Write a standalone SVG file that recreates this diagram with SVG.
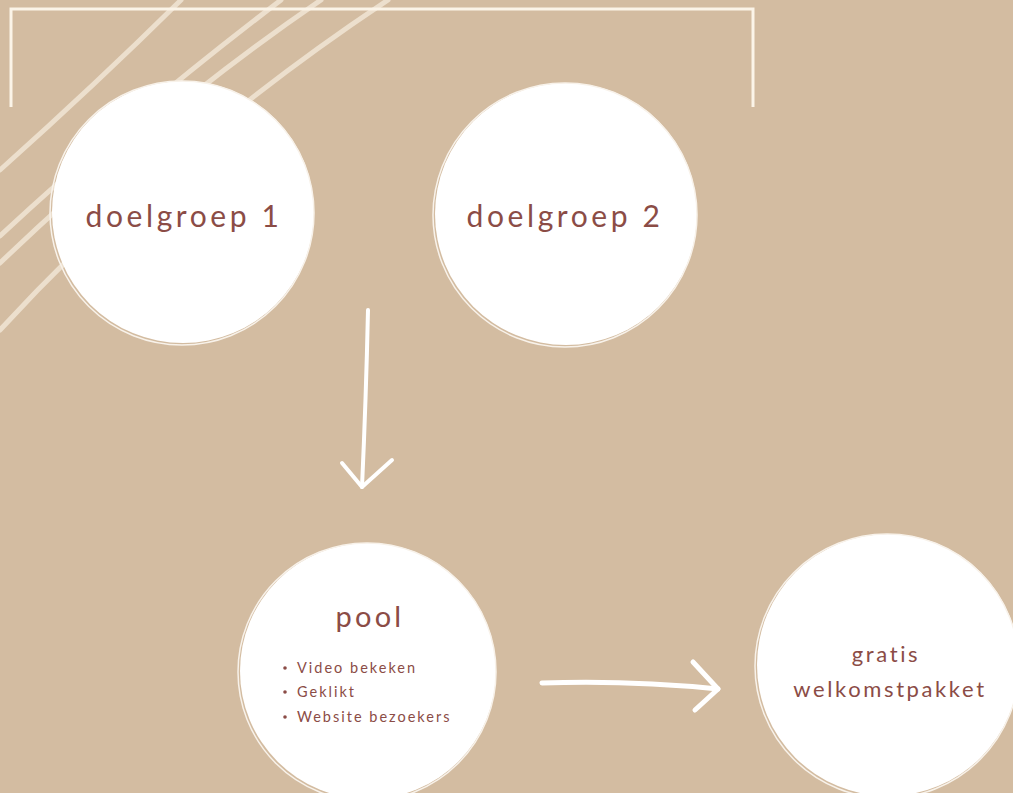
<svg xmlns="http://www.w3.org/2000/svg" width="1013" height="793" viewBox="0 0 1013 793">
  <style>
    .bg { fill: #d3bca1; }
    .deco { fill: none; stroke: #ecdfcd; stroke-width: 5; stroke-linecap: round; }
    .frame { fill: none; stroke: #fbf4e8; stroke-width: 3; }
    .node { fill: #ffffff; }
    .brush { fill: none; stroke: #f8f2ea; stroke-width: 1.5; }
    .label { font-family: Lato, "Open Sans", sans-serif; fill: #8b4c46; text-anchor: middle; }
    .big { font-size: 30px; letter-spacing: 3.6px; }
    .mid { font-size: 22px; letter-spacing: 2.6px; }
    .small { font-family: Lato, "Open Sans", sans-serif; fill: #8b4c46; font-size: 14.5px; letter-spacing: 2px; }
    .conn { fill: none; stroke: #ffffff; stroke-linecap: round; stroke-linejoin: round; }
  </style>
  <rect class="bg" x="0" y="0" width="1013" height="793"/>

  <g id="decoration">
    <path class="deco" d="M181,0 Q95,85 0,170"/>
    <path class="deco" d="M281,0 Q130,115 0,236"/>
    <path class="deco" d="M321,0 Q160,110 0,263"/>
    <path class="deco" d="M388,0 Q170,145 0,330"/>
    <path class="frame" d="M11,107 V9 H753 V107"/>
  </g>

  <g id="node-doelgroep1">
    <circle class="node" cx="183" cy="212" r="131"/>
    <circle class="brush" cx="182" cy="213" r="132"/>
    <text class="label big" x="184" y="227">doelgroep 1</text>
  </g>

  <g id="node-doelgroep2">
    <circle class="node" cx="566" cy="214" r="131"/>
    <circle class="brush" cx="565" cy="215" r="132"/>
    <text class="label big" x="565" y="227">doelgroep 2</text>
  </g>

  <g id="node-pool">
    <circle class="node" cx="368" cy="671" r="128"/>
    <circle class="brush" cx="367" cy="672" r="129"/>
    <text class="label" x="370" y="627" font-size="29" letter-spacing="3.2">pool</text>
    <circle cx="285" cy="668" r="1.8" fill="#8b4c46"/>
    <text class="small" x="297" y="673">Video bekeken</text>
    <circle cx="285" cy="692" r="1.8" fill="#8b4c46"/>
    <text class="small" x="297" y="697">Geklikt</text>
    <circle cx="285" cy="717" r="1.8" fill="#8b4c46"/>
    <text class="small" x="297" y="722">Website bezoekers</text>
  </g>

  <g id="node-welkomstpakket">
    <circle class="node" cx="888" cy="665" r="131"/>
    <circle class="brush" cx="887" cy="666" r="132"/>
    <text class="label mid" x="886" y="662">gratis</text>
    <text class="label mid" x="890" y="697">welkomstpakket</text>
  </g>

  <g id="connectors">
    <path class="conn" stroke-width="4" d="M368,310 Q366,400 362,487"/>
    <path class="conn" stroke-width="4" d="M342,463 L362,487 L392,460"/>
    <path class="conn" stroke-width="5" d="M542,683 Q630,680 718,689"/>
    <path class="conn" stroke-width="5" d="M693,662 L718,689 L695,710"/>
  </g>
</svg>
